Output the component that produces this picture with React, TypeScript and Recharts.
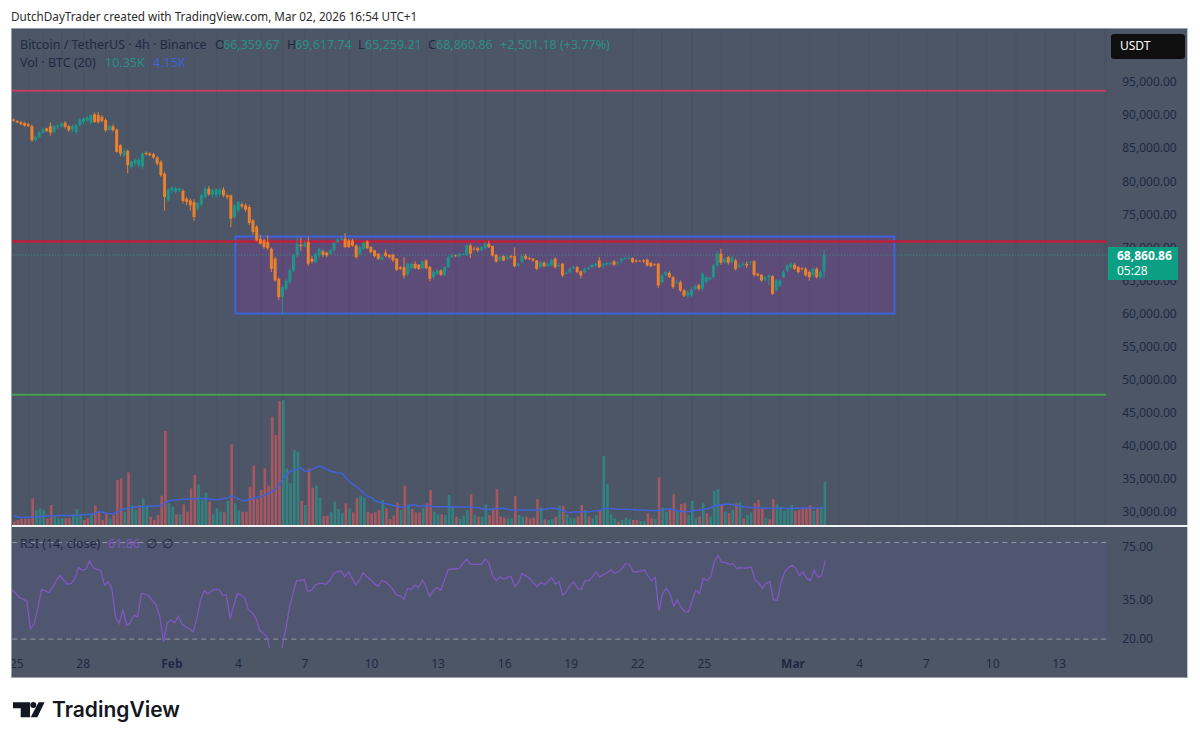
import {
  Bar,
  CartesianGrid,
  Cell,
  ComposedChart,
  Line,
  ReferenceArea,
  ReferenceLine,
  XAxis,
  YAxis,
} from "recharts";

// prices in thousands of USDT, one entry per 4h bar
const opens = [
  89.35, 89.14, 88.94, 88.84, 88.64, 88.33, 86.21, 86.72, 87.37, 87.98,
  88.33, 87.47, 88.23, 88.33, 88.84, 88.33, 87.83, 87.47, 88.48, 88.99,
  89.24, 88.84, 90.15, 90, 89.75, 89.24, 87.73, 88.33, 87.83, 85.46,
  83.94, 84.6, 82.17, 82.68, 82.43, 82.27, 84.3, 84.19, 84.09, 83.59,
  82.93, 81.16, 77.12, 78.64, 78.38, 78.64, 78.53, 77.38, 77.12, 76.87,
  75.86, 76.52, 77.63, 78.89, 78.03, 77.88, 78.03, 78.74, 77.88, 77.88,
  74.6, 75.61, 76.52, 76.37, 76.11, 74.09, 73.08, 71.32, 71.06, 70.81,
  69.8, 68.29, 65.26, 62.48, 63.74, 64.75, 66.52, 68.79, 70.4, 70.2,
  70.81, 68.29, 67.78, 68.79, 69.4, 69.2, 69.04, 69.55, 70.81, 71.21,
  71.32, 71.06, 71.06, 70.3, 69.04, 69.8, 70.91, 70.05, 69.55, 69.04,
  68.18, 69.2, 68.89, 68.89, 68.29, 67.02, 67.02, 66.01, 66.87, 67.53,
  67.38, 66.87, 68.03, 67.02, 65.51, 66.01, 66.52, 65.86, 67.02, 68.54,
  68.79, 68.69, 68.89, 68.89, 70.3, 69.8, 69.9, 69.55, 69.9, 70.56,
  70.2, 68.89, 68.03, 68.69, 68.29, 68.69, 68.69, 67.28, 67.78, 68.69,
  68.39, 68.29, 68.03, 67.02, 67.68, 67.17, 67.28, 68.29, 67.17, 67.53,
  66.01, 66.27, 66.87, 67.02, 66.37, 66.27, 66.77, 67.02, 67.28, 68.03,
  67.28, 67.43, 67.48, 67.88, 67.58, 67.93, 68.29, 68.29, 68.39, 68.03,
  67.93, 68.03, 68.13, 67.68, 67.43, 67.53, 64.75, 65.86, 66.16, 65.51,
  64.65, 64.75, 63.49, 62.73, 62.73, 63.74, 64.25, 63.74, 64.75, 65.15,
  65.51, 67.28, 69.04, 67.78, 68.54, 67.78, 68.03, 67.02, 67.38, 67.53,
  67.68, 67.88, 66.01, 65.86, 65, 65.51, 65.66, 63.49, 64.25, 65.51,
  66.52, 67.02, 67.38, 67.02, 66.87, 66.77, 66.27, 65.76, 66.77, 65.51,
  66.36,
];
const closes = [
  89.14, 88.9, 88.64, 88.43, 88.33, 86.21, 86.72, 87.37, 87.83, 87.63,
  87.37, 88.33, 88.43, 88.74, 88.23, 87.73, 88.33, 88.48, 89.34, 89.5,
  89.65, 90, 88.99, 88.99, 89.14, 87.73, 88.33, 87.73, 84.45, 84.19,
  84.6, 82.43, 82.93, 83.18, 83.28, 84.19, 84.09, 83.94, 83.59, 82.68,
  80.91, 77.63, 78.74, 79.04, 78.99, 78.89, 77.02, 76.87, 76.37, 74.6,
  76.72, 77.88, 78.89, 78.03, 78.64, 78.74, 78.74, 77.88, 77.63, 74.35,
  76.37, 76.87, 76.21, 75.71, 73.69, 72.33, 71.06, 70.56, 70.05, 69.9,
  66.77, 65, 62.48, 63.99, 65, 66.52, 68.79, 70.56, 70.2, 70.56,
  67.53, 67.88, 69.04, 69.8, 68.89, 68.79, 69.55, 70.71, 71.21, 71.32,
  70.05, 70.05, 70.3, 68.54, 70.05, 70.71, 69.9, 69.3, 68.69, 68.29,
  68.54, 68.69, 68.54, 68.03, 66.62, 66.77, 65.76, 67.53, 67.53, 66.87,
  66.77, 67.88, 66.87, 65.26, 66.27, 66.52, 65.86, 67.02, 68.54, 68.89,
  68.69, 68.99, 69.04, 70.3, 69.04, 69.7, 69.55, 70.05, 70.56, 70.05,
  68.79, 67.88, 68.54, 68.03, 68.54, 68.54, 67.17, 67.53, 68.69, 68.29,
  68.29, 68.03, 66.77, 67.78, 67.17, 67.53, 68.03, 67.02, 67.38, 65.76,
  66.16, 66.77, 67.02, 66.27, 65.76, 66.77, 66.92, 67.38, 67.53, 67.02,
  67.53, 67.58, 67.63, 67.38, 67.73, 68.29, 68.44, 68.44, 67.78, 67.88,
  67.88, 67.88, 67.28, 67.17, 67.33, 64.25, 65.76, 66.27, 65.51, 63.99,
  64.75, 63.49, 62.73, 63.24, 63.64, 64.14, 63.74, 66.01, 65.51, 65.36,
  67.28, 69.04, 67.68, 68.29, 67.68, 68.49, 66.77, 67.28, 67.53, 67.28,
  67.78, 65.86, 65.76, 65, 65.51, 65.76, 62.98, 65, 65, 66.27,
  67.28, 67.53, 66.77, 66.27, 66.77, 65.76, 65.51, 66.77, 65.51, 66.36,
  68.86,
];
const highs = [
  89.5, 89.25, 89.1, 89, 88.85, 88.6, 86.9, 87.6, 88.1, 88.1,
  88.9, 88.5, 88.7, 89, 89.1, 88.5, 88.6, 88.7, 89.5, 89.7,
  89.8, 90.1, 90.4, 90.5, 90, 89.5, 88.5, 88.6, 88, 85.6,
  85, 84.8, 83.1, 83.4, 83.5, 84.4, 84.5, 84.4, 84.3, 83.8,
  83.2, 81.4, 79, 79.3, 79.2, 79.1, 78.8, 77.6, 77.4, 77.3,
  76.9, 78.1, 79.2, 79.3, 78.9, 79, 79, 79.1, 78.1, 78,
  76.6, 77.1, 76.8, 76.7, 76.4, 74.3, 73.4, 71.9, 71.3, 71.8,
  70, 68.6, 65.5, 64.3, 65.3, 66.8, 69, 71.6, 71.5, 71,
  71.6, 68.7, 69.2, 70, 69.7, 69.4, 69.8, 70.9, 71.4, 71.6,
  72.2, 71.3, 71.3, 70.5, 70.3, 70.9, 71.1, 70.2, 69.7, 69.2,
  68.9, 69.7, 69, 69.1, 68.4, 67.2, 68.5, 67.7, 67.7, 67.9,
  67.5, 68, 68.2, 67.2, 66.5, 66.7, 66.7, 67.2, 68.7, 69.1,
  68.9, 69.2, 69.2, 70.5, 70.6, 70.1, 70.1, 70.2, 70.8, 71,
  70.3, 69, 68.7, 68.8, 68.8, 68.9, 70, 67.7, 68.9, 69,
  68.6, 68.4, 68.1, 67.9, 67.9, 67.8, 68.3, 68.5, 67.7, 67.7,
  66.4, 66.9, 67.2, 67.2, 66.5, 67, 67.1, 67.6, 67.7, 68.5,
  67.7, 67.8, 67.8, 68.1, 67.9, 68.4, 68.6, 68.7, 68.5, 68.2,
  68.1, 68.2, 68.3, 67.8, 67.6, 67.7, 66, 66.5, 66.4, 65.7,
  65.1, 65, 63.7, 63.5, 64, 64.4, 64.5, 66.3, 65.8, 65.6,
  67.5, 69.4, 69.8, 68.5, 68.7, 68.7, 68.3, 67.6, 67.8, 67.9,
  68, 68.1, 66.2, 66, 65.7, 65.9, 65.8, 65.2, 65.2, 66.5,
  67.5, 67.8, 67.6, 67.2, 67, 67, 66.5, 67, 67, 66.5,
  69.62,
];
const lows = [
  89.04, 88.8, 88.5, 88.3, 88.2, 86, 85.95, 86.5, 87.2, 87.4,
  86.9, 87.2, 87.9, 88.1, 88, 87.5, 87.4, 87.1, 88.3, 88.7,
  89, 88.6, 88.8, 88.7, 88.9, 87.5, 87.6, 87.5, 84.3, 83.8,
  83.7, 81.2, 81.9, 82.4, 82.1, 81.9, 83.9, 83.8, 83.4, 82.4,
  80.7, 75.6, 76.9, 78.2, 78.1, 78.3, 76.7, 76.4, 75.6, 74,
  75.5, 76.2, 77.4, 77.8, 77.6, 77.5, 77.7, 77.6, 77.3, 73.1,
  74.3, 75.3, 75.9, 75.4, 73.4, 71.9, 70.9, 70.4, 69.8, 69.6,
  66.3, 64.8, 62.1, 59.8, 63.5, 64.5, 66.3, 68.5, 69.5, 70,
  67.2, 67.6, 67.6, 68.4, 68.6, 68.5, 68.9, 69.4, 70.6, 71,
  69.9, 69.9, 70.1, 68.3, 68.8, 69.6, 69.7, 69.1, 68.5, 68.1,
  68, 68.5, 68.3, 67.8, 66.4, 66.6, 65.3, 65.6, 66.6, 66.7,
  66.6, 66.7, 66.7, 64.9, 65.2, 65.8, 65.7, 65.7, 66.9, 68.4,
  68.5, 68.5, 68.8, 68.7, 68.4, 69.5, 69.3, 69.4, 69.7, 69.9,
  68.6, 67.7, 67.8, 67.9, 68.1, 68.3, 67, 67, 67.6, 68.1,
  68.1, 67.8, 66.6, 66.8, 67, 67, 67.1, 66.8, 67, 65.5,
  65.9, 66.1, 66.7, 66.1, 65.3, 66.1, 66.6, 66.9, 67.1, 66.9,
  66.8, 67.2, 67.3, 67.2, 67.4, 67.7, 68.1, 68.2, 67.6, 67.7,
  67.8, 67.7, 67.1, 67, 67.2, 63.9, 64.5, 65.7, 65.4, 63.8,
  64.4, 63.3, 62.5, 62.4, 62.5, 63.5, 63.5, 63.5, 64.5, 65,
  65.3, 67, 67.4, 67.5, 67.4, 67.6, 66.5, 66.9, 67.1, 66.9,
  67.4, 65.6, 65.6, 64.8, 64.9, 64.3, 62.8, 63.3, 64, 65.3,
  66.3, 66.8, 66.6, 66.1, 66.5, 65.6, 65, 65.5, 65.3, 65.2,
  65.26,
];

// volume in thousands of BTC
const volumes = [
  0.8, 1.2, 1.44, 1.44, 1.44, 6.4, 3.52, 4, 3.68, 1.6,
  4.8, 2, 1.6, 1.6, 1.6, 1.6, 2.56, 3.84, 2.4, 1.2,
  1.6, 2.8, 4.64, 3.2, 1.2, 2.8, 1.6, 2.4, 10.8, 11.2,
  3.2, 12.64, 4.8, 3.6, 4.8, 6.4, 4.4, 2, 1.2, 2.4,
  7.04, 22.56, 5.2, 4.4, 2.56, 2.56, 4.96, 3.2, 8.8, 12,
  9.76, 6, 7.76, 5.6, 2.56, 4, 3.2, 3.04, 5.76, 19.36,
  5.2, 3.6, 3.2, 3.2, 9.2, 14.24, 6.24, 8.4, 13.6, 9.44,
  26, 21.6, 29.76, 30, 13.6, 10, 18, 17.6, 5.84, 4.8,
  13.6, 8.96, 9.44, 6.56, 2.16, 2.24, 3.04, 5.6, 3.84, 2.8,
  5.2, 4, 3.04, 6.4, 7.04, 6.56, 3.2, 2.8, 3.04, 3.6,
  6, 4, 1.44, 2.24, 5.44, 3.6, 9.44, 4.96, 3.84, 3.04,
  3.04,
  4, 5.2, 8.4, 3.2, 2.56, 2.56, 2.4, 7.2, 4.4, 2,
  1.44, 2.24, 3.6, 7.36, 2.4, 2, 2, 4.96, 2.4, 4,
  8.56, 2, 1.76, 1.44, 1.6, 6.96, 2.4, 2, 2, 1.6,
  1.76, 6.24, 4.16, 1.36, 1.2, 1.44, 2, 4.56, 4.64, 2.56,
  1.6, 1.6, 2, 4.8, 3.6, 2, 1.6, 2.4, 3.6, 16.56,
  9.76, 2.56, 1.6, 0.8, 1.2, 1.76, 1.36, 1.2, 1.2, 0.96,
  0.96, 2.8, 1.6, 1.44, 11.44, 4.16, 3.2, 3.6, 7.36, 3.6,
  5.04, 5.2, 2.4, 5.76, 1.6, 2, 5.2, 2.8, 2, 8.16,
  8.64, 4.8, 3.2, 2.8, 3.6, 5.2, 5.44, 1.6, 2.4, 3.04,
  5.2, 6, 4.16, 1.76, 1.36, 6.16, 4.96, 4.4, 3.36, 4,
  4.8, 3.36, 3.6, 4, 4, 4.8, 3.36, 4, 4.4, 10.35,
];
// r = down bar, g = up bar
const volumeDirs = (
  "rrrrrrgggr" + "rgggrrgggr" + "rgrrrrgrrr" + "grggrggrrr" + "rrggrgrrrr" +
  "gggrgggrgr" + "ggrrrrrrrr" + "rrrgggggrg" + "rrggrrgggg" + "rgrrggrrrr" +
  "grrrrgrgrr" + "r" +
  "grrggrgggr" + "gggrgrggrr" + "rrrggrggrr" + "rrgrggrgrg" + "ggrrgrggrg" +
  "gggrgggrrg" + "grrgrggrrg" + "rrgggrgrgg" + "grgrgrgrgg" + "rrrgrrgggg" +
  "grrrrrgrgg"
).split("");
const volumeMa = [
  2.2, 2.0, 1.8, 1.8, 1.8, 1.9, 1.9, 2.0, 2.1, 2.1,
  2.2, 2.2, 2.3, 2.3, 2.3, 2.3, 2.3, 2.3, 2.4, 2.5,
  2.5, 2.6, 2.7, 3.2, 3.1, 2.9, 2.7, 2.7, 3.0, 3.7,
  3.8, 4.1, 4.2, 4.3, 4.4, 4.4, 4.5, 4.5, 4.5, 4.6,
  4.6, 5.3, 5.8, 5.9, 6.0, 6.1, 6.2, 6.2, 6.3, 6.3,
  6.3, 6.4, 6.3, 6.2, 6.1, 6.1, 6.1, 6.4, 6.5, 7.0,
  6.7, 6.2, 5.9, 5.9, 6.1, 6.4, 6.6, 6.8, 7.2, 7.5,
  8.0, 8.6, 9.6, 11, 12, 13, 13.1, 13.4, 13.8, 12.8,
  13.0, 13.3, 13.8, 14.1, 13.8, 13.3, 12.9, 12.7, 12.5, 12.4,
  11.5, 10.5, 9.8, 9.1, 8.4, 7.6, 6.9, 6.6, 5.8, 5.5,
  5.3, 5.1, 4.9, 4.7, 4.5, 4.3, 4.2, 4.6, 4.8, 4.8, 4.4,
  4.6, 4.6, 4.5, 4.4, 4.4, 4.4, 4.4, 4.4, 4.4, 4.4,
  4.3, 4.3, 4.3, 4.3, 4.2, 4.2, 3.9, 3.7, 3.7, 3.8,
  3.9, 4.0, 4.0, 3.8, 3.6, 3.6, 3.6, 3.6, 3.6, 3.6,
  3.6, 3.6, 3.6, 3.8, 3.9, 4.0, 4.0, 3.7, 3.4, 3.1,
  3.0, 3.1, 3.1, 3.2, 3.2, 3.2, 3.3, 3.4, 3.4, 4.0,
  4.0, 3.9, 3.9, 3.8, 3.8, 3.8, 3.7, 3.7, 3.6, 3.6,
  3.6, 3.5, 3.5, 3.5, 3.5, 3.6, 3.8, 3.9, 3.7, 3.4,
  3.3, 3.2, 3.2, 3.4, 3.5, 3.6, 3.7, 3.9, 4.1, 4.5,
  4.8, 4.8, 5.0, 5.0, 4.9, 4.7, 4.5, 4.4, 4.3, 4.2,
  4.2, 4.1, 4.1, 4.1, 4.0, 4.0, 4.0, 4.0, 4.0, 4.0,
  4.0, 4.0, 4.0, 4.1, 4.1, 4.1, 4.1, 4.1, 4.1, 4.15,
];
const rsi = [
  40.8, 38.5, 36.2, 35.5, 34.5, 23.2, 25, 31, 40.8, 40,
  38.9, 42, 46.7, 49.8, 46.7, 44, 44.5, 47.8, 55.7, 53.9,
  54.5, 61.6, 55.4, 54.7, 53.4, 43.4, 45.6, 41.4, 27.5, 25,
  30.3, 24.4, 25.3, 28.2, 27.5, 38.5, 38.2, 37.2, 34.7, 32.6,
  27.5, 19.2, 25.3, 26.2, 25.3, 27.8, 24.7, 23.8, 23.2, 22.2,
  26.8, 35, 40, 38.2, 40, 40.8, 40.8, 37.6, 37.6, 26.8,
  32.6, 38.5, 37.6, 35.9, 30.3, 29.2, 26.8, 22.7, 21.7, 20.8,
  16, 14.5, 15, 17.6, 22.7, 31, 38.5, 46.3, 46.3, 47.2,
  39.8, 40.2, 43.4, 44.5, 44.5, 44, 46.7, 51.3, 52.6, 53.1,
  48.9, 52.6, 47.8, 43.4, 46.7, 51.8, 48.9, 46.7, 44.5, 42.8,
  46.3, 45.6, 43.4, 40.8, 37.6, 37.2, 35.5, 41.4, 40.8, 43.4,
  42,
  46.7, 42.4, 37, 40.4, 42, 40.4, 46.7, 54.5, 54.7, 54.7,
  55.4, 59.3, 62.9, 58.4, 58.4, 58.4, 58.4, 63.3, 59.3, 49.8,
  46.3, 48.9, 47.4, 48.4, 49.3, 42.4, 45, 51.3, 49.6, 47.8,
  44.8, 42.4, 45, 44, 45.6, 48.4, 44, 45.6, 37.6, 39.5,
  43.4, 45.6, 41.4, 40.8, 46.3, 46.3, 48.9, 52.6, 48.9, 50.5,
  51.8, 54.2, 51.3, 52.6, 55, 59.3, 58.4, 52.6, 52.6, 52.8,
  54.2, 49.8, 46.3, 48.4, 30, 38.5, 41.4, 38.5, 32.1, 35,
  31.5, 29.6, 29.6, 34.7, 40.4, 38.5, 47.8, 46.3, 48.9, 60.7,
  66.5, 60.1, 60.1, 58.4, 59.3, 55, 55.7, 55.4, 55.7, 56.2,
  46.7, 44.8, 41.4, 44.5, 45.6, 35, 35, 44.5, 52.6, 55.7,
  57.7, 55, 49.8, 52.6, 47.8, 46.3, 53.9, 48.4, 49.8, 61.86,
];

const priceTicks = [
  30000, 35000, 40000, 45000, 50000, 55000, 60000, 65000, 70000, 75000, 80000,
  85000, 90000, 95000,
];
const rsiTicks = [20, 35, 75];
const daySlots = [1, 19, 43, 61, 79, 97, 115, 133, 151, 169, 187, 211, 229, 247, 265, 283];
const dayLabels = ["25", "28", "Feb", "4", "7", "10", "13", "16", "19", "22", "25", "Mar", "4", "7", "10", "13"];

const SLOT_COUNT = 297;
const UP = "#1f958a";
const DOWN = "#ec802c";
const LEGEND_TEAL = "#2a8f88";
const VOL_UP = "#33827f";
const VOL_DOWN = "#a8565f";
const INK = "#1e2a42";
const FONT = "'Noto Sans', sans-serif";

const rows = Array.from({ length: SLOT_COUNT }, (_, i) => {
  if (i >= opens.length) return { slot: i };
  const o = opens[i] * 1000;
  const c = closes[i] * 1000;
  return {
    slot: i,
    wick: [lows[i] * 1000, highs[i] * 1000],
    body: [Math.min(o, c), Math.max(o, c)],
    up: c >= o,
    vol: volumes[i],
    volUp: volumeDirs[i] === "g",
    volMa: volumeMa[i],
    rsi: rsi[i],
  };
});

const tickStyle = { fill: INK, fontSize: 12, fontFamily: FONT };

function DayTick({ x, y, payload }: any) {
  const idx = daySlots.indexOf(payload.value);
  const label = dayLabels[idx];
  const bold = label === "Feb" || label === "Mar";
  return (
    <text x={x + 1} y={y + 12} textAnchor="middle" fill={INK} fontSize={12} fontFamily={FONT} fontWeight={bold ? 700 : 400}>
      {label}
    </text>
  );
}

function Label({ x, y, color = INK, weight = 400, size = 12.5, children }: any) {
  return (
    <span
      style={{
        position: "absolute",
        left: x,
        top: y,
        color,
        fontWeight: weight,
        fontSize: size,
        lineHeight: "16px",
        whiteSpace: "nowrap",
      }}
    >
      {children}
    </span>
  );
}

function PriceChart() {
  return (
    <ComposedChart
      width={1176.25}
      height={496}
      data={rows}
      margin={{ top: 0, right: 0, bottom: 0, left: 0 }}
      barGap={0}
    >
      <CartesianGrid stroke="#495264" strokeWidth={1} />
      <XAxis xAxisId="wick" dataKey="slot" hide ticks={daySlots} interval={0} />
      <XAxis xAxisId="body" dataKey="slot" hide ticks={daySlots} interval={0} />
      <XAxis xAxisId="vol" dataKey="slot" hide ticks={daySlots} interval={0} />
      <XAxis xAxisId="box" type="number" dataKey="slot" hide domain={[0, SLOT_COUNT]} />
      <YAxis
        yAxisId="price"
        orientation="right"
        width={82}
        domain={[28030, 103030]}
        ticks={priceTicks}
        interval={0}
        axisLine={false}
        tickLine={false}
        tickMargin={10}
        tick={tickStyle}
        tickFormatter={(v: number) => v.toLocaleString("en-US", { minimumFractionDigits: 2 })}
      />
      <YAxis yAxisId="vol" hide domain={[0, 119]} />
      <ReferenceArea
        xAxisId="box"
        yAxisId="price"
        x1={60.6}
        x2={239.5}
        y1={60000}
        y2={71670}
        fill="#9c27b0"
        fillOpacity={0.22}
        stroke="#3f62d8"
        strokeWidth={2}
      />
      <ReferenceLine xAxisId="wick" yAxisId="price" y={93700} stroke="#c2405c" strokeWidth={2} />
      <ReferenceLine xAxisId="wick" yAxisId="price" y={70900} stroke="#bf1f3c" strokeWidth={2.5} zIndex={200} />
      <ReferenceLine xAxisId="wick" yAxisId="price" y={47730} stroke="#4aa04e" strokeWidth={2} />
      <ReferenceLine xAxisId="wick" yAxisId="price" y={68860} stroke="#2f9c8e" strokeWidth={1} strokeDasharray="1 2" zIndex={200} />
      <Bar xAxisId="vol" yAxisId="vol" dataKey="vol" barSize={2.6} isAnimationActive={false}>
        {rows.map((r: any) => (
          <Cell key={r.slot} fill={r.volUp ? VOL_UP : VOL_DOWN} />
        ))}
      </Bar>
      <Line
        xAxisId="vol"
        yAxisId="vol"
        dataKey="volMa"
        stroke="#3f62d8"
        strokeWidth={1.5}
        dot={false}
        isAnimationActive={false}
      />
      <Bar xAxisId="wick" yAxisId="price" dataKey="wick" barSize={1} isAnimationActive={false}>
        {rows.map((r: any) => (
          <Cell key={r.slot} fill={r.up ? UP : DOWN} />
        ))}
      </Bar>
      <Bar xAxisId="body" yAxisId="price" dataKey="body" barSize={3} isAnimationActive={false}>
        {rows.map((r: any) => (
          <Cell key={r.slot} fill={r.up ? UP : DOWN} />
        ))}
      </Bar>
    </ComposedChart>
  );
}

function RsiChart() {
  return (
    <ComposedChart
      width={1176.25}
      height={151}
      data={rows}
      margin={{ top: 0, right: 0, bottom: 0, left: 0 }}
    >
      <CartesianGrid stroke="#4e5569" strokeWidth={1} horizontal={false} />
      <XAxis
        dataKey="slot"
        ticks={daySlots}
        interval={0}
        height={30}
        axisLine={false}
        tickLine={false}
        tick={<DayTick />}
      />
      <YAxis
        orientation="right"
        width={82}
        scale="log"
        domain={[17.6, 100]}
        allowDataOverflow
        ticks={rsiTicks}
        interval={0}
        axisLine={false}
        tickLine={false}
        tickMargin={10}
        tick={tickStyle}
        tickFormatter={(v: number) => v.toFixed(2)}
      />
      <ReferenceArea y1={20} y2={80} fill="#7e57c2" fillOpacity={0.1} stroke="none" />
      <ReferenceLine y={80} stroke="#9298a8" strokeDasharray="5 4" />
      <ReferenceLine y={20} stroke="#9298a8" strokeDasharray="5 4" />
      <Line dataKey="rsi" stroke="#7e57c2" strokeWidth={1.3} dot={false} isAnimationActive={false} />
    </ComposedChart>
  );
}

export default function App() {
  return (
    <div
      style={{
        position: "absolute",
        left: 0,
        top: 0,
        width: 1200,
        height: 742,
        background: "#fff",
        overflow: "hidden",
        fontFamily: FONT,
      }}
    >
      <Label x={11} y={8} color="#2b2b2b" size={11.7}>
        DutchDayTrader created with TradingView.com, Mar 02, 2026 16:54 UTC+1
      </Label>

      <div
        style={{
          position: "absolute",
          left: 11,
          top: 28,
          width: 1177,
          height: 650,
          background: "#4c5667",
          borderTop: "1px solid #9aa0aa",
          borderLeft: "1px solid #9aa0aa",
          borderRight: "1px solid #c4c7cc",
          borderBottom: "1px solid #9aa0aa",
          boxSizing: "border-box",
        }}
      />
      <div style={{ position: "absolute", left: 11.75, top: 29 }}>
        <PriceChart />
      </div>
      <div style={{ position: "absolute", left: 12, top: 525, width: 1176, height: 2, background: "#f2f2f2" }} />
      <div style={{ position: "absolute", left: 11.75, top: 527 }}>
        <RsiChart />
      </div>

      <Label x={20} y={37}>Bitcoin / TetherUS · 4h · Binance</Label>
      <Label x={215} y={37}>O</Label>
      <Label x={223} y={37} color={LEGEND_TEAL}>66,359.67</Label>
      <Label x={287} y={37}>H</Label>
      <Label x={295} y={37} color={LEGEND_TEAL}>69,617.74</Label>
      <Label x={358} y={37}>L</Label>
      <Label x={365} y={37} color={LEGEND_TEAL}>65,259.21</Label>
      <Label x={428} y={37}>C</Label>
      <Label x={436} y={37} color={LEGEND_TEAL}>68,860.86</Label>
      <Label x={500} y={37} color={LEGEND_TEAL}>+2,501.18 (+3.77%)</Label>
      <Label x={20} y={55}>Vol · BTC (20)</Label>
      <Label x={105} y={55} color={LEGEND_TEAL}>10.35K</Label>
      <Label x={153} y={55} color="#3f62d8">4.15K</Label>
      <Label x={20} y={536}>RSI (14, close)</Label>
      <Label x={108} y={536} color="#7e57c2">61.86</Label>
      <Label x={146} y={536}>∅</Label>
      <Label x={162} y={536}>∅</Label>

      <div style={{ position: "absolute", left: 1111, top: 34, width: 74, height: 25, background: "#0f0f0f", borderRadius: 3 }} />
      <Label x={1120} y={38} color="#fff" size={12}>USDT</Label>
      <div style={{ position: "absolute", left: 1108, top: 247, width: 70, height: 33, background: "#0ba083" }} />
      <Label x={1117} y={248} color="#fff" weight={700} size={12}>68,860.86</Label>
      <Label x={1117} y={263} color="#fff" size={12}>05:28</Label>

      <svg style={{ position: "absolute", left: 0, top: 695 }} width={50} height={30}>
        <path d="M13 7.3H30V22.3H20.7V13.3H13Z" fill="#131722" />
        <circle cx={33.3} cy={10} r={3} fill="#131722" />
        <path d="M38.6 7.3H44.6L37.3 22.3H30.7Z" fill="#131722" />
      </svg>
      <Label x={52} y={694} color="#131722" size={21} weight={600}>
        <span style={{ fontFamily: "Inter, sans-serif", lineHeight: "32px" }}>TradingView</span>
      </Label>
    </div>
  );
}
